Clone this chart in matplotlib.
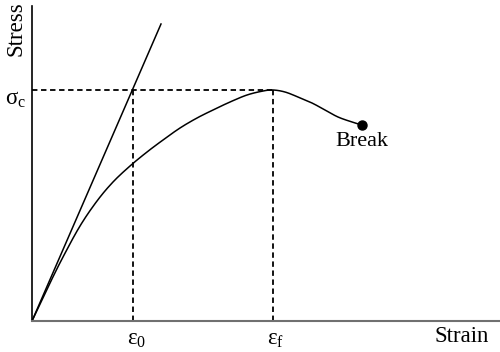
import numpy as np
import matplotlib
matplotlib.use('Agg')
from matplotlib import pyplot as plt

plt.rcParams['font.family'] = ['Liberation Serif', 'DejaVu Serif']
plt.rcParams['mathtext.fontset'] = 'custom'
plt.rcParams['mathtext.rm'] = 'Liberation Serif'
plt.rcParams['mathtext.it'] = 'Liberation Serif'

# stress-strain curve (arbitrary units)
strain = [0, 18, 31, 48, 65, 81, 98, 115, 131, 148, 165, 181, 198, 215, 231,
          241, 253, 266, 280, 293, 306, 320, 330]
stress = [0, 38, 64, 95, 120, 139, 155, 169, 181, 193, 203, 211, 219, 226, 230,
          231, 229, 224, 218, 211, 204, 199, 196]

# initial elastic tangent
tangent_strain = [0, 129]
tangent_stress = [0, 297]

eps0 = 101
epsf = 241
sigma_c = 231
break_pt = (330, 196)


def smooth(xs, ys, n=12):
    # catmull-rom through the read points, just to round off the corners
    px = np.r_[xs[0], xs, xs[-1]].astype(float)
    py = np.r_[ys[0], ys, ys[-1]].astype(float)
    ox, oy = [], []
    s = np.linspace(0, 1, n, endpoint=False)
    for i in range(1, len(px) - 2):
        for arr, out in ((px, ox), (py, oy)):
            p0, p1, p2, p3 = arr[i - 1:i + 3]
            out.extend(0.5 * (2 * p1 + (p2 - p0) * s
                              + (2 * p0 - 5 * p1 + 4 * p2 - p3) * s ** 2
                              + (3 * p1 - p0 - 3 * p2 + p3) * s ** 3))
    ox.append(xs[-1])
    oy.append(ys[-1])
    return ox, oy


fig = plt.figure(figsize=(5, 3.52), dpi=100)
ax = fig.add_axes([0, 0, 1, 1])
ax.set_xlim(-32, 468)
ax.set_ylim(-31, 321)

cx, cy = smooth(strain, stress)
ax.plot(cx, cy, color='black', lw=1.1)
ax.plot(tangent_strain, tangent_stress, color='black', lw=1.1)

# dashed guides
ax.plot([0, epsf], [sigma_c, sigma_c], color='black', lw=1.3, dashes=(3, 2))
ax.plot([eps0, eps0], [0, sigma_c], color='black', lw=1.3, dashes=(3, 2))
ax.plot([epsf, epsf], [0, sigma_c], color='black', lw=1.3, dashes=(3, 2))

ax.plot(*break_pt, 'o', color='black', markersize=6.5)
ax.text(break_pt[0], 180, 'Break', fontsize=16, ha='center', va='center')

# axes
ax.plot([0, 0], [0, 315], color='black', lw=1.2)
ax.plot([0, 468], [0, 0], color='#707070', lw=1.5)
ax.axis('off')

ax.text(-16, 292, 'Stress', fontsize=16.5, rotation=90, ha='center', va='center')
ax.text(430, -16, 'Strain', fontsize=16.5, ha='center', va='center')
ax.text(-16, 221, r'$\mathrm{σ_c}$', fontsize=16.5, ha='center', va='center')
ax.text(eps0 + 4, -19, r'$\mathrm{ε_0}$', fontsize=16.5, ha='center', va='center')
ax.text(epsf + 3, -19, r'$\mathrm{ε_f}$', fontsize=16.5, ha='center', va='center')

fig.savefig('out.png', dpi=100)
